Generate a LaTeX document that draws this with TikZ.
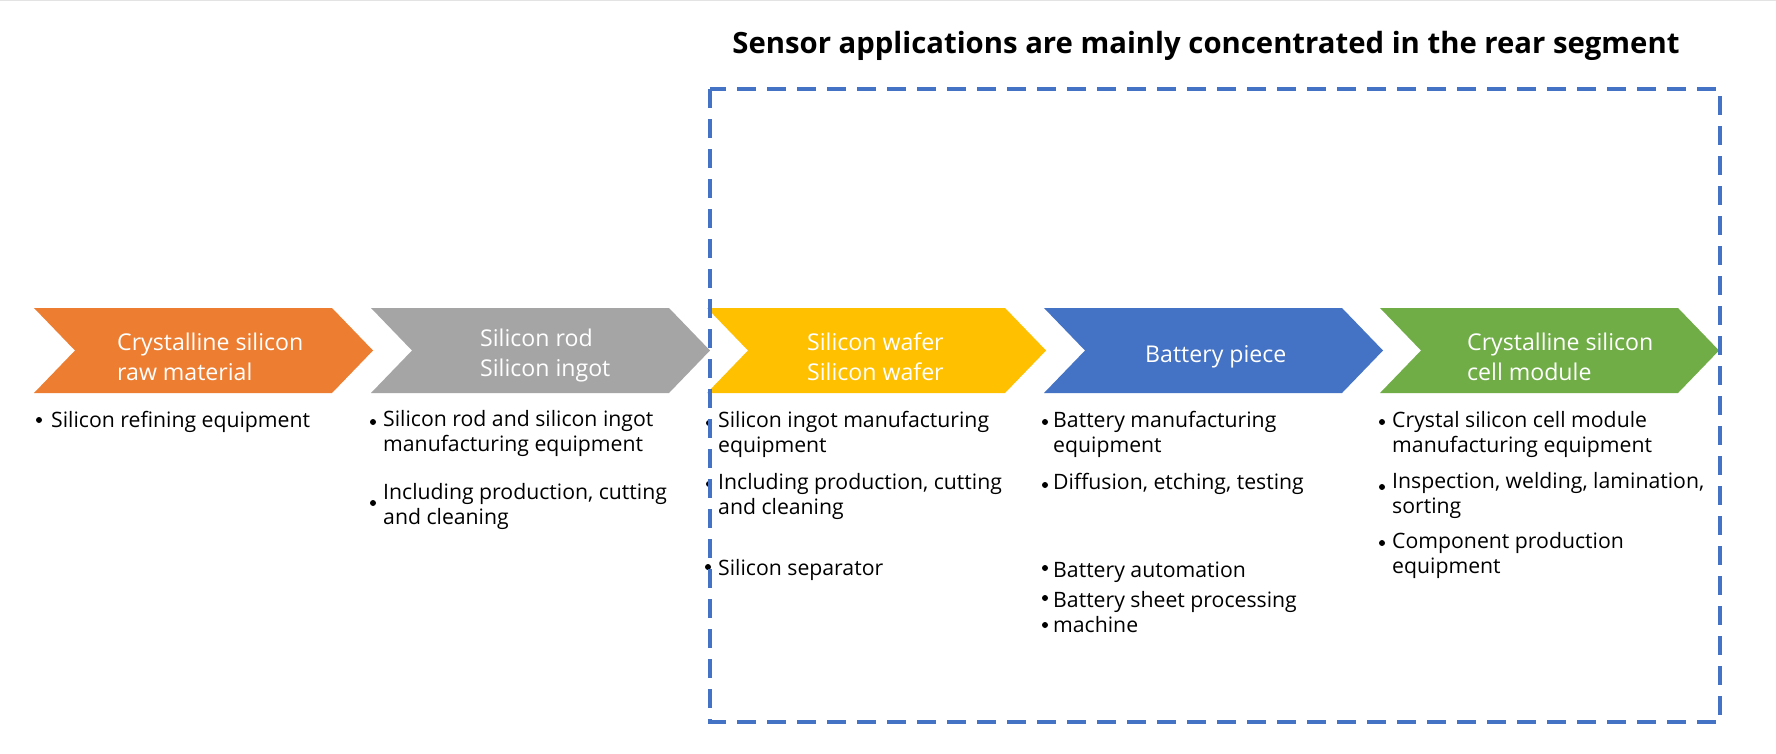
\documentclass[tikz,border=0pt]{standalone}
\usepackage{fontspec}
\setmainfont{Open Sans}
\definecolor{corange}{HTML}{ED7D31}
\definecolor{cgray}{HTML}{A5A5A5}
\definecolor{cyellow}{HTML}{FFC000}
\definecolor{cblue}{HTML}{4472C4}
\definecolor{cgreen}{HTML}{70AD47}
\definecolor{ctop}{HTML}{E3E3E3}
\newcommand\chevronshape[2]{\fill[#2] (#1,308) -- ++(298,0) -- ++(41,42.5) -- ++(-41,42.5) -- ++(-298,0) -- ++(41,-42.5) -- cycle;}
\begin{document}
\begin{tikzpicture}[x=1bp,y=-1bp,
  lbl/.style={anchor=base west, inner sep=0, align=left, text=white, font=\fontsize{23.2}{30}\selectfont},
  itm/.style={anchor=base west, inner sep=0, align=left, font=\fontsize{21.3}{25}\selectfont},
  bul/.style={fill=black},
  segbox/.style={draw=cblue, line width=4.5bp, dash pattern=on 19bp off 11bp}]
\useasboundingbox (0,0) rectangle (1776,754);
\fill[white] (0,0) rectangle (1776,754);
\draw[ctop, line width=1.5bp] (0,0.75) -- (1776,0.75);

% chevrons
\chevronshape{34}{corange}
\chevronshape{371}{cgray}
\chevronshape{707}{cyellow}
\chevronshape{1044}{cblue}
\chevronshape{1380}{cgreen}

% chevron labels (anchored at the baseline of their last line)
\node[lbl] (l1) at (117,380) {Crystalline silicon\\raw material};
\node[lbl] (l2) at (480,376) {Silicon rod\\Silicon ingot};
\node[lbl] (l3) at (807,380) {Silicon wafer\\Silicon wafer};
\node[lbl] (l4) at (1145,362) {Battery piece};
\node[lbl] (l5) at (1467,380) {Crystalline silicon\\cell module};

% title
\node[anchor=base, inner sep=0, font=\bfseries\fontsize{29.4}{34}\selectfont] (title) at (1206,54) {Sensor applications are mainly concentrated in the rear segment};

% column 1
\fill[bul] (39,420) circle (3);
\node[itm] (a1) at (51,427) {Silicon refining equipment};

% column 2
\fill[bul] (373,422) circle (3);
\node[itm] (b1) at (383,451) {Silicon rod and silicon ingot\\manufacturing equipment};
\fill[bul] (373,503) circle (3);
\node[itm] (b2) at (383,524) {Including production, cutting\\and cleaning};

% column 3
\fill[bul] (709,423) circle (3);
\node[itm] (c1) at (718,452) {Silicon ingot manufacturing\\equipment};
\fill[bul] (709,484) circle (3);
\node[itm] (c2) at (718,514) {Including production, cutting\\and cleaning};
\fill[bul] (708,567) circle (3);
\node[itm] (c3) at (718,575) {Silicon separator};

% column 4
\fill[bul] (1045,422) circle (3);
\node[itm] (d1) at (1053,452) {Battery manufacturing\\equipment};
\fill[bul] (1045,485) circle (3);
\node[itm] (d2) at (1053,489) {Diffusion, etching, testing};
\fill[bul] (1045,568) circle (3);
\node[itm] (d3) at (1053,577) {Battery automation};
\fill[bul] (1045,598) circle (3);
\node[itm] (d4) at (1053,607) {Battery sheet processing};
\fill[bul] (1045,625) circle (3);
\node[itm] (d5) at (1053,632) {machine};

% column 5
\fill[bul] (1382,422) circle (3);
\node[itm] (e1) at (1392,452) {Crystal silicon cell module\\manufacturing equipment};
\fill[bul] (1382,487) circle (3);
\node[itm] (e2) at (1392,513) {Inspection, welding, lamination,\\sorting};
\fill[bul] (1382,543) circle (3);
\node[itm] (e3) at (1392,573) {Component production\\equipment};

% dashed segment box
\draw[segbox] (710,89) rectangle (1720,722);
\end{tikzpicture}
\end{document}
